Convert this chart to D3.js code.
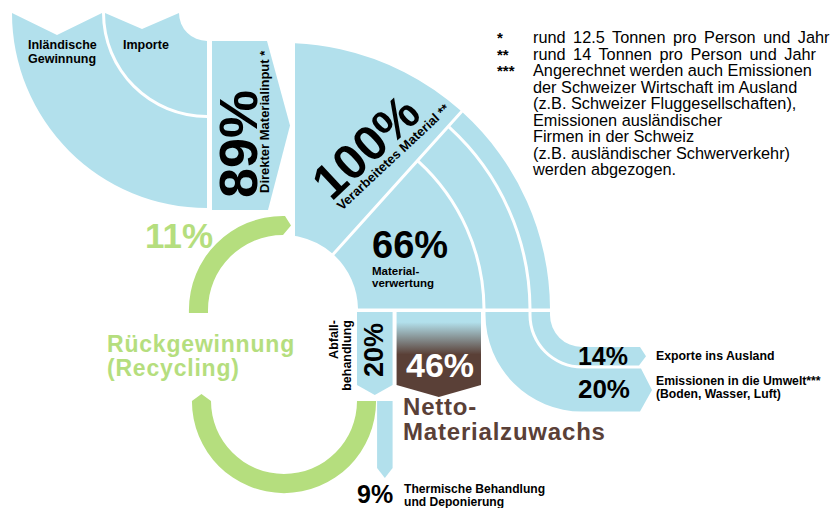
<!DOCTYPE html>
<html><head><meta charset="utf-8">
<script src="https://cdn.jsdelivr.net/npm/d3@7"></script>
<style>
html,body{margin:0;padding:0;background:#fff;}
svg{display:block;font-family:"Liberation Sans",Arial,sans-serif;}
</style></head><body>
<svg id="chart" width="835" height="508"></svg>
<script>
// ---------------- data ----------------
const inputNames = ["Inländische Gewinnung", "Importe"];
const directInputName = "Direkter Materialinput *";
const directInput = 89;
const processedName = "Verarbeitetes Material **";
const processed = 100;
const outflowNames = ["Materialverwertung", "Emissionen in die Umwelt***", "Exporte ins Ausland"];
const outflowValues = [66, 20, 14];
const useNames = ["Abfallbehandlung", "Netto-Materialzuwachs"];
const useValues = [20, 46];
const wasteNames = ["Rückgewinnung (Recycling)", "Thermische Behandlung und Deponierung"];
const wasteValues = [11, 9];
const footnoteMarks = ["*", "**", "***"];
const footnoteLines = [
  "rund 12.5 Tonnen pro Person und Jahr",
  "rund 14 Tonnen pro Person und Jahr",
  "Angerechnet werden auch Emissionen",
  "der Schweizer Wirtschaft im Ausland",
  "(z.B. Schweizer Fluggesellschaften),",
  "Emissionen ausländischer",
  "Firmen in der Schweiz",
  "(z.B. ausländischer Schwerverkehr)",
  "werden abgezogen."
];

// ---------------- style / layout ----------------
const BLUE = "#b2e0ec", GREEN = "#b5de7e", BROWN = "#5a4037";
const svg = d3.select("#chart");
const C = {x: 283, y: 310};            // centre of the processing ring
const L = {x: 207, y: 13};             // centre of the input quarter ring
const pct = v => v + "%";

const rScale = d3.scaleLinear().domain([0, 66, 86, 100]).range([75, 201, 247, 267]);
const useScale = d3.scaleLinear().domain([0, d3.sum(useValues)]).range([357, 481]);
const wasteScale = d3.scaleLinear().domain([0, d3.sum(wasteValues)]).range([357, 392.6]);

const defs = svg.append("defs");
const grad = defs.append("linearGradient").attr("id", "brownGrad")
  .attr("x1", 0).attr("y1", 0).attr("x2", 0).attr("y2", 1);
grad.append("stop").attr("offset", "0").attr("stop-color", BLUE);
grad.append("stop").attr("offset", "0.12").attr("stop-color", BLUE);
grad.append("stop").attr("offset", "0.5").attr("stop-color", BROWN);
grad.append("stop").attr("offset", "1").attr("stop-color", BROWN);
defs.append("clipPath").attr("id", "clipRight")
  .append("rect").attr("x", 295).attr("y", 0).attr("width", 600).attr("height", 508);

function multiText(transform, parts, attrs) {
  const t = svg.append("text").attr("font-weight", "bold");
  if (transform) t.attr("transform", transform);
  Object.entries(attrs || {}).forEach(([k, v]) => t.attr(k, v));
  parts.forEach(p => {
    const s = t.append("tspan").attr("x", p.x).attr("y", p.y).attr("font-size", p.size).text(p.text);
    if (p.fill) s.attr("fill", p.fill);
    if (p.anchor) s.attr("text-anchor", p.anchor);
  });
  return t;
}

// ---------------- inputs (quarter ring) ----------------
function inputPath(r0, r1, notch) {
  const p = d3.path();
  p.moveTo(L.x - r1, L.y);
  p.arc(L.x, L.y, r1, Math.PI, Math.PI / 2, true);
  p.lineTo(L.x, L.y + r0);
  p.arc(L.x, L.y, r0, Math.PI / 2, Math.PI, false);
  p.lineTo(L.x - (r0 + r1) / 2, L.y + notch);
  p.closePath();
  return p.toString();
}
svg.append("path").attr("d", inputPath(105, 195, 22)).attr("fill", BLUE);
svg.append("path").attr("d", inputPath(28, 102, 16)).attr("fill", BLUE);

const inl = inputNames[0].split(" ");
multiText(null, [
  {text: inl[0], x: 28, y: 49, size: 12.5},
  {text: inl[1], x: 28, y: 63, size: 12.5}
]);
multiText(null, [{text: inputNames[1], x: 123, y: 49, size: 12.5}]);

// ---------------- direct material input arrow ----------------
{
  const x0 = 212, x1 = 267, y0 = 41, y1 = 210;
  const p = d3.path();
  p.moveTo(x0, y0); p.lineTo(x1, y0); p.lineTo(x1 + 23, (y0 + y1) / 2);
  p.lineTo(x1 + 1, y1); p.lineTo(x0, y1); p.closePath();
  svg.append("path").attr("d", p.toString()).attr("fill", BLUE);
  multiText("translate(257,198) rotate(-90)", [
    {text: pct(directInput), x: 0, y: 0, size: 54},
    {text: directInputName, x: 5, y: 12, size: 13}
  ]);
}

// ---------------- processing ring ----------------
const arcGen = d3.arc().padAngle(0.03).padRadius(100);
const split = 42 * Math.PI / 180;
svg.append("g").attr("clip-path", "url(#clipRight)")
  .append("path").attr("transform", `translate(${C.x},${C.y})`)
  .attr("d", arcGen({innerRadius: rScale(0), outerRadius: rScale(processed), startAngle: -0.3, endAngle: split}))
  .attr("fill", BLUE);

let cum = 0;
const bands = outflowValues.map((v, i) => {
  const a = cum, b = cum + v; cum = b;
  return {name: outflowNames[i], value: v,
    r0: rScale(a) + (i > 0 ? 1.5 : 0),
    r1: rScale(b) - (i < outflowValues.length - 1 ? 1.5 : 0)};
});
svg.append("g").attr("transform", `translate(${C.x},${C.y})`)
  .selectAll("path").data(bands).join("path")
  .attr("d", d => arcGen({innerRadius: d.r0, outerRadius: d.r1, startAngle: split, endAngle: Math.PI / 2}))
  .attr("fill", BLUE);

const bend = {x: 582, y: 315}, yTop = 312;
const arrowEnds = [null, {body: 641, tip: 652}, {body: 640, tip: 646}];
bands.forEach((d, i) => {
  if (i === 0) return;
  const xL = C.x + d.r0, xR = C.x + d.r1;
  const rs = bend.x - xR, rb = bend.x - xL;
  const p = d3.path();
  p.moveTo(xL, yTop); p.lineTo(xR, yTop); p.lineTo(xR, bend.y);
  p.arc(bend.x, bend.y, rs, Math.PI, Math.PI / 2, true);
  p.lineTo(arrowEnds[i].body, bend.y + rs);
  p.lineTo(arrowEnds[i].tip, bend.y + (rs + rb) / 2);
  p.lineTo(arrowEnds[i].body - 1, bend.y + rb);
  p.lineTo(bend.x, bend.y + rb);
  p.arc(bend.x, bend.y, rb, Math.PI / 2, Math.PI, false);
  p.closePath();
  svg.append("path").attr("d", p.toString()).attr("fill", BLUE);
});

cum = 0;
const uses = useValues.map((v, i) => {
  const a = cum, b = cum + v; cum = b;
  return {name: useNames[i], value: v,
    x0: useScale(a) + (i > 0 ? 2 : 0), x1: useScale(b) - (i < useValues.length - 1 ? 2 : 0)};
});
uses.forEach((d, i) => {
  const yb = 385, tip = i === 0 ? 10 : 12;
  const p = d3.path();
  p.moveTo(d.x0, yTop); p.lineTo(d.x1, yTop); p.lineTo(d.x1, yb);
  p.lineTo((d.x0 + d.x1) / 2, yb + tip); p.lineTo(d.x0, yb); p.closePath();
  svg.append("path").attr("d", p.toString()).attr("fill", i === 0 ? BLUE : "url(#brownGrad)");
});

cum = 0;
const wastes = wasteValues.map((v, i) => {
  const a = cum, b = cum + v; cum = b;
  return {name: wasteNames[i], value: v,
    x0: wasteScale(a) + (i > 0 ? 0.5 : 0), x1: wasteScale(b) - (i < wasteValues.length - 1 ? 0.5 : 0)};
});
{
  const rc = wastes[0];
  const cxL = 284, cyL = 401;
  const rIn = rc.x0 - cxL, rOut = rc.x1 - cxL, rMid = (rIn + rOut) / 2;
  const p = d3.path();
  p.moveTo(cxL + rIn, cyL); p.lineTo(cxL + rOut, cyL);
  p.arc(cxL, cyL, rOut, 0, Math.PI, false);
  p.lineTo(cxL - rMid, cyL - 7);
  p.lineTo(cxL - rIn, cyL);
  p.arc(cxL, cyL, rIn, Math.PI, 0, true);
  p.closePath();
  svg.append("path").attr("d", p.toString()).attr("fill", GREEN);
  const uIn = rScale(0), uOut = uIn + (rOut - rIn), uMid = (uIn + uOut) / 2;
  const q = d3.path();
  q.moveTo(C.x - uOut, C.y + 3); q.lineTo(C.x - uOut, C.y);
  q.arc(C.x, C.y, uOut, Math.PI, 1.5 * Math.PI, false);
  q.lineTo(C.x + 2, C.y - uOut);
  q.lineTo(C.x + 8, C.y - uMid);
  q.lineTo(C.x, C.y - uIn);
  q.arc(C.x, C.y, uIn, 1.5 * Math.PI, Math.PI, true);
  q.lineTo(C.x - uIn, C.y + 3);
  q.closePath();
  svg.append("path").attr("d", q.toString()).attr("fill", GREEN);
  const th = wastes[1];
  const t = d3.path();
  t.moveTo(th.x0, cyL); t.lineTo(th.x1, cyL); t.lineTo(th.x1, 468);
  t.lineTo((th.x0 + th.x1) / 2, 478); t.lineTo(th.x0, 468); t.closePath();
  svg.append("path").attr("d", t.toString()).attr("fill", BLUE);
}

// ---------------- labels ----------------
multiText("translate(393,157) rotate(-43)", [
  {text: pct(processed), x: -13, y: -9, size: 49, anchor: "middle"},
  {text: processedName, x: 0, y: 4.5, size: 13, anchor: "middle"}
]);
multiText(null, [
  {text: pct(outflowValues[0]), x: 372, y: 257.5, size: 38},
  {text: "Material-", x: 372, y: 274.8, size: 11.5},
  {text: "verwertung", x: 372, y: 286.8, size: 11.5}
]);

multiText("translate(383,350) rotate(-90)", [
  {text: pct(useValues[0]), x: 0, y: 0, size: 27, anchor: "middle"},
  {text: "Abfall-", x: 30, y: -45.5, size: 12.5, anchor: "end"},
  {text: "behandlung", x: 30, y: -32, size: 12.5, anchor: "end"}
]);

multiText(null, [{text: pct(useValues[1]), x: 440, y: 377, size: 34, anchor: "middle"}], {fill: "#fff"});
multiText(null, [
  {text: "Netto-", x: 403, y: 415, size: 24},
  {text: "Materialzuwachs", x: 403, y: 439.5, size: 24}
], {fill: BROWN, "letter-spacing": 0.8});

multiText(null, [
  {text: pct(outflowValues[2]), x: 628, y: 365, size: 25, anchor: "end"},
  {text: outflowNames[2], x: 656, y: 360, size: 12.3}
]);
multiText(null, [
  {text: pct(outflowValues[1]), x: 630, y: 398, size: 26, anchor: "end"},
  {text: outflowNames[1], x: 656, y: 384.5, size: 12.2},
  {text: "(Boden, Wasser, Luft)", x: 656, y: 398, size: 12.2}
]);

multiText(null, [
  {text: pct(wasteValues[1]), x: 357, y: 503, size: 25},
  {text: "Thermische Behandlung", x: 404, y: 492.5, size: 12.1},
  {text: "und Deponierung", x: 404, y: 506, size: 12.1}
]);

multiText(null, [{text: pct(wasteValues[0]), x: 145, y: 248, size: 35}], {fill: GREEN});
multiText(null, [
  {text: "Rückgewinnung", x: 107, y: 352, size: 23},
  {text: "(Recycling)", x: 107, y: 375.5, size: 23}
], {fill: GREEN, "letter-spacing": 0.8});

// footnotes
const fn = svg.append("text").attr("font-size", 16.3);
footnoteMarks.forEach((d, i) => {
  fn.append("tspan").attr("x", 497).attr("y", 43 + i * 16.5).attr("font-weight", "bold")
    .attr("font-size", 15).text(d);
});
footnoteLines.forEach((d, i) => {
  fn.append("tspan").attr("x", 533).attr("y", 43 + i * 16.5)
    .attr("word-spacing", i < 2 ? 3 : 0).text(d);
});
</script>
</body></html>
